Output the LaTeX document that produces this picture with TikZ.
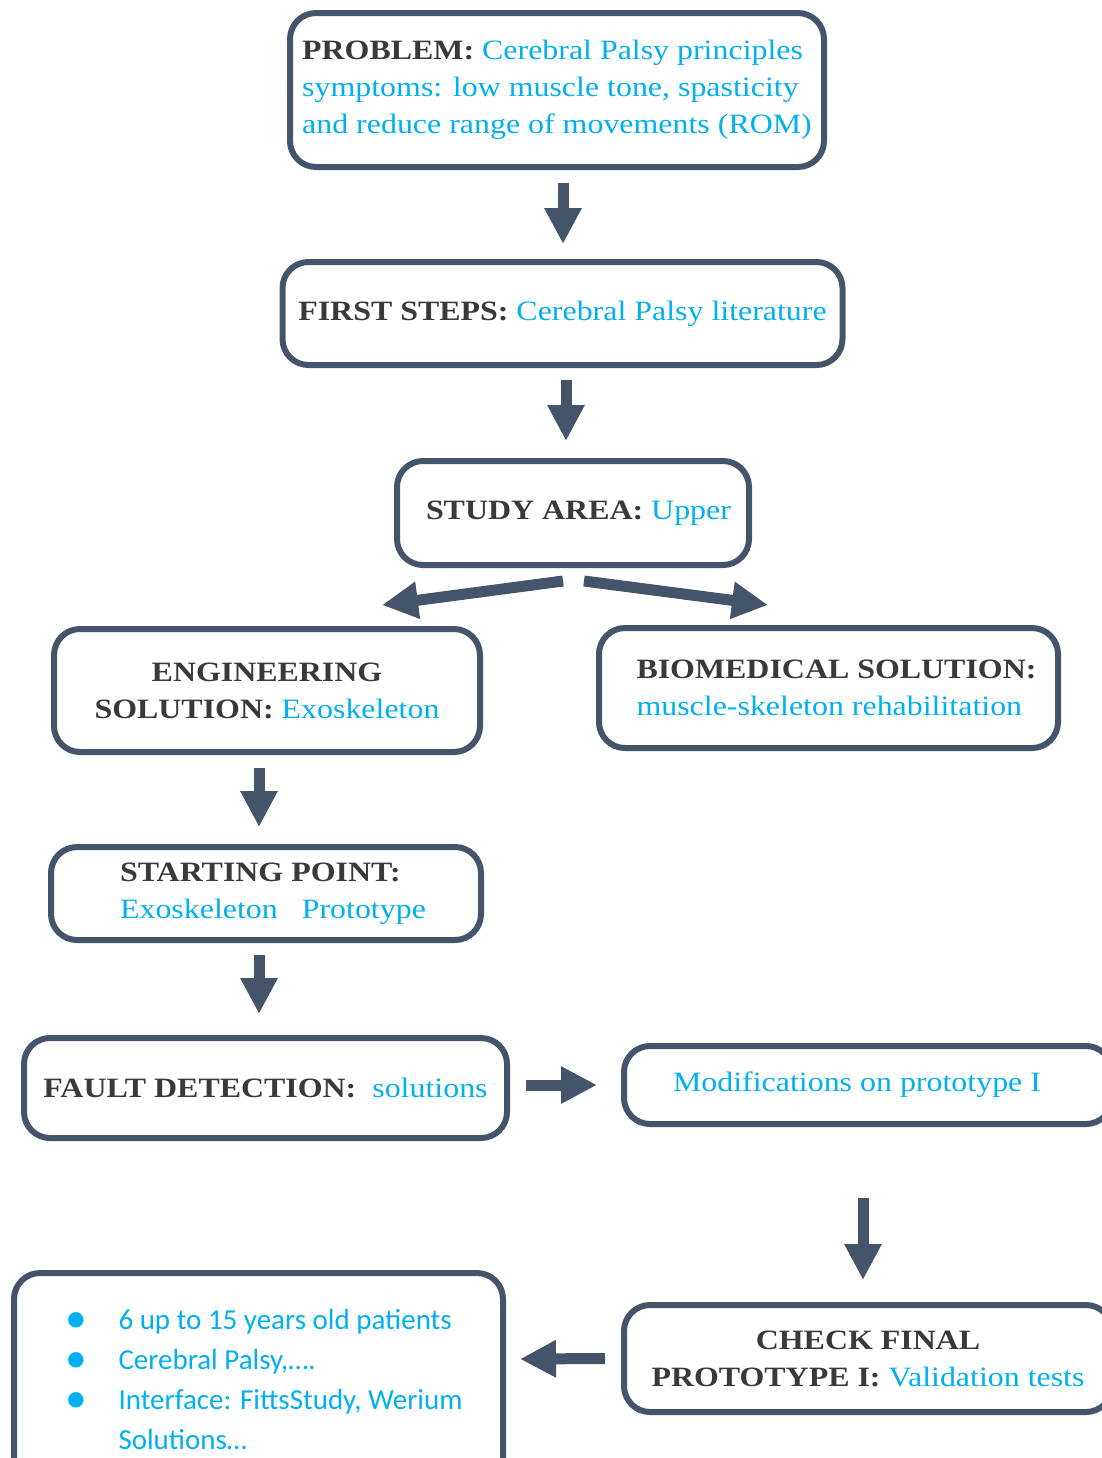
\documentclass[tikz,border=0pt]{standalone}
\usepackage{fontspec}
\setmainfont[FakeStretch=1.14]{Liberation Serif}
\newfontfamily\calibri{Carlito}
\usepackage{xcolor}
\usetikzlibrary{arrows.meta, positioning}

\definecolor{slate}{HTML}{44546A}
\definecolor{skyblue}{HTML}{00B0F0}
\definecolor{darktxt}{HTML}{3A3838}

\newcommand{\hd}[1]{\textbf{\textcolor{darktxt}{#1}}}
\newcommand{\bitem}{\makebox[24pt][l]{\hspace{-2.5pt}\raisebox{-0.2ex}{\scalebox{1.5}{\textbullet}}}}

\begin{document}
\begin{tikzpicture}[x=0.5pt, y=-0.5pt,
    box/.style={draw=slate, line width=3pt, rounded corners=13pt, fill=white,
        inner sep=0pt, text=skyblue, font=\fontsize{14}{18.5}\selectfont},
    bigarrow/.style={draw=slate, line width=5.5pt, -{Triangle[width=17.5pt, length=18pt]}}]
    \useasboundingbox (0,0) rectangle (1102,1458);
    \clip (0,0) rectangle (1102,1458);

    % cajas
    \node[box, minimum width=267pt, minimum height=77pt, align=left] (prob) at (557,90)
        {\hd{PROBLEM:} Cerebral Palsy principles\\
         symptoms: low muscle tone, spasticity\\
         and reduce range of movements (ROM)};
    \node[box, minimum width=280pt, minimum height=51.5pt] (first) at (562.5,313.5)
        {\hd{FIRST STEPS:} Cerebral Palsy literature};
    \node[box, minimum width=176pt, minimum height=52pt] (study) at (573,513)
        {\hspace*{5.5pt}\hd{STUDY AREA:} Upper};
    \node[box, minimum width=213pt, minimum height=61.5pt, align=center] (eng) at (267,690.5)
        {\hd{ENGINEERING}\\ \hd{SOLUTION:} Exoskeleton};
    \node[box, minimum width=229.5pt, minimum height=60pt, align=left] (bio) at (828.5,688)
        {\hspace*{8pt}\hd{BIOMEDICAL SOLUTION:}\\ \hspace*{8pt}muscle-skeleton rehabilitation};
    \node[box, minimum width=215pt, minimum height=46.5pt, align=left] (start) at (266,893.5)
        {\hspace*{7pt}\hd{STARTING POINT:}\\ \hspace*{7pt}Exoskeleton\ \ \ Prototype};
    \node[box, minimum width=241.5pt, minimum height=50pt] (fault) at (265.5,1088)
        {\hd{FAULT DETECTION:}\ \ solutions};
    \node[box, minimum width=244pt, minimum height=39pt] (modif) at (868,1085)
        {\hspace*{-11pt}Modifications on prototype I};
    \node[box, minimum width=244pt, minimum height=53.5pt, align=center] (check) at (868,1358.5)
        {\hd{CHECK FINAL}\\ \hd{PROTOTYPE I:} Validation tests};
    \node[box, minimum width=244.5pt, minimum height=107pt, align=left,
        font=\calibri\fontsize{14.5}{20}\selectfont] (info) at (258.5,1380)
        {\hspace*{8pt}\bitem 6 up to 15 years old patients\\
         \hspace*{8pt}\bitem Cerebral Palsy,….\\
         \hspace*{8pt}\bitem Interface: FittsStudy, Werium\\
         \hspace*{8pt}\hspace*{24pt}Solutions…};

    % flechas
    \draw[bigarrow] ([xshift=3pt, yshift=-6.5pt]prob.south) -- ([xshift=0.25pt, yshift=7.5pt]first.north);
    \draw[bigarrow] ([xshift=1.75pt, yshift=-6pt]first.south) -- ([xshift=-3.5pt, yshift=8.5pt]study.north);
    \draw[bigarrow] ([xshift=-5pt, yshift=-6.5pt]study.south) -- ([xshift=57.5pt, yshift=10.5pt]eng.north);
    \draw[bigarrow] ([xshift=5.5pt, yshift=-6.5pt]study.south) -- ([xshift=-30.25pt, yshift=10pt]bio.north);
    \draw[bigarrow] ([xshift=-4pt, yshift=-6.5pt]eng.south) -- ([xshift=-3.5pt, yshift=8.5pt]start.north);
    \draw[bigarrow] ([xshift=-3.5pt, yshift=-6pt]start.south) -- ([xshift=-3.25pt, yshift=10.5pt]fault.north);
    \draw[bigarrow] ([xshift=8pt, yshift=1.5pt]fault.east) -- ([xshift=-12pt]modif.west);
    \draw[bigarrow] ([xshift=-2.5pt, yshift=-35.5pt]modif.south) -- ([xshift=-2.5pt, yshift=11pt]check.north);
    \draw[bigarrow] ([xshift=-8pt]check.west) -- ([xshift=7pt, yshift=10.5pt]info.east);
\end{tikzpicture}
\end{document}
